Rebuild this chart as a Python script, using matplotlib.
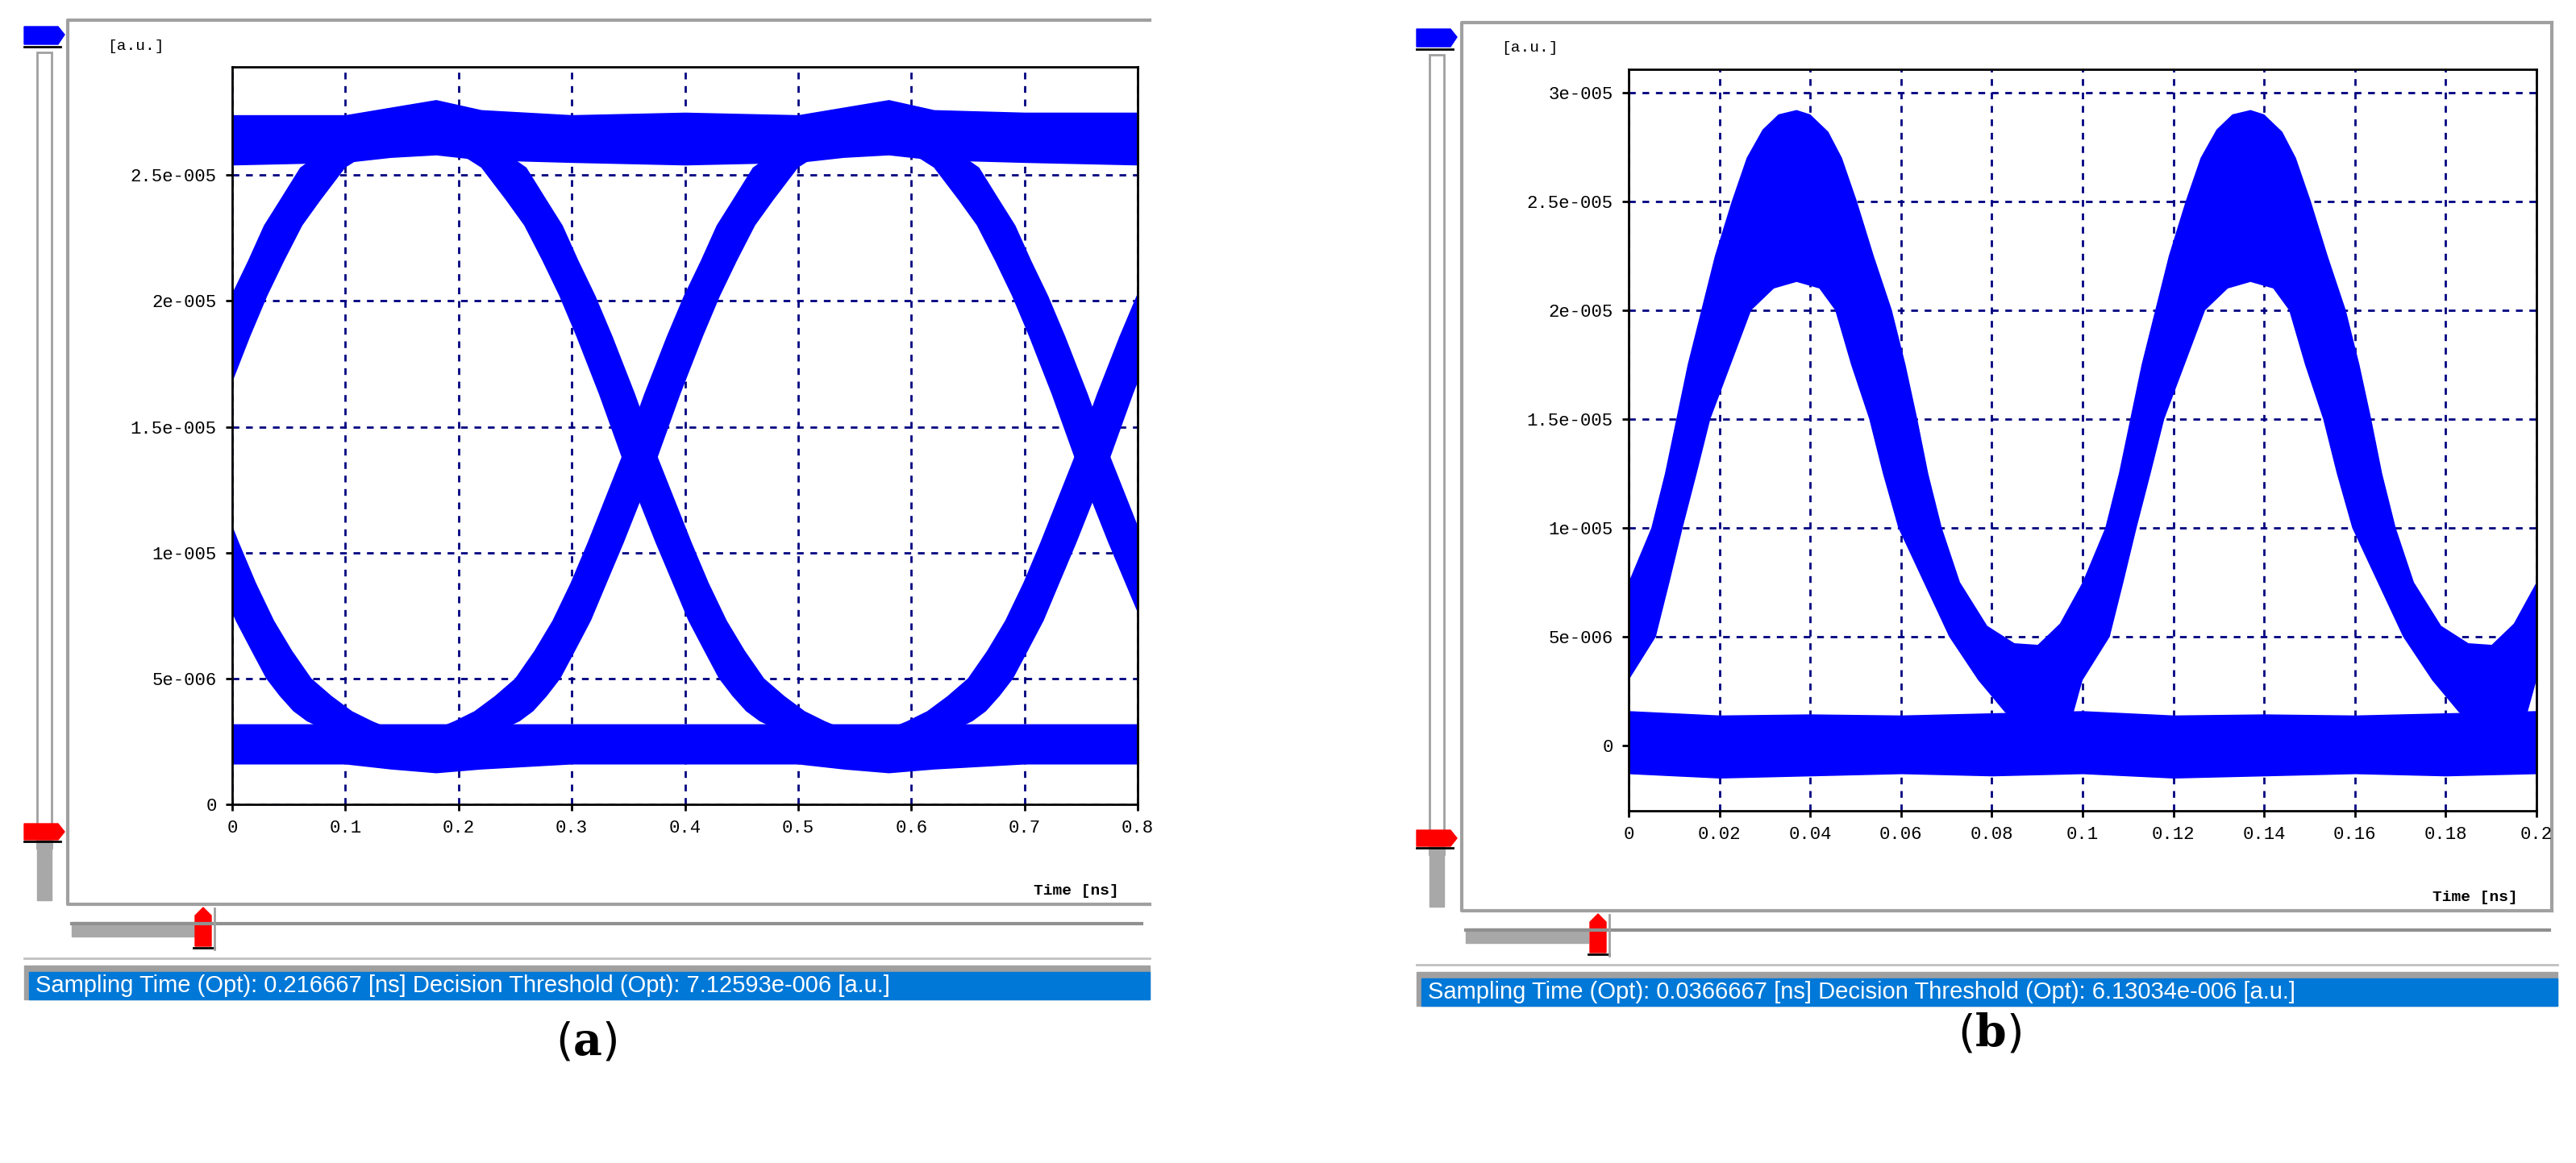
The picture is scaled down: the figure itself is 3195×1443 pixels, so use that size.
import matplotlib
matplotlib.use('Agg')
import matplotlib.pyplot as plt
from matplotlib.patches import Rectangle, Polygon
from matplotlib.ticker import FuncFormatter, MultipleLocator
import numpy as np

W, H = 3195, 1443
BLUE = '#0000ff'
GRID = '#000080'
plt.rcParams['mathtext.fontset'] = 'dejavuserif'

# ---------- panel (a): NRZ eye (y in 1e-6 a.u.)
a_crossings = [-0.04, 0.36, 0.76]
# falling edge relative to a crossing point (dx in ns), rising edge is its mirror
a_edge_dx = [-0.17, -0.155, -0.14, -0.12, -0.10, -0.085, -0.07, -0.055, -0.04, -0.02, 0.0,
             0.015, 0.03, 0.045, 0.06, 0.075, 0.09, 0.105, 0.12, 0.135, 0.15, 0.18]
a_edge_y = [26.4, 26.2, 25.9, 25.3, 24.0, 23.0, 21.6, 20.2, 18.6, 16.3, 13.8,
            12.1, 10.4, 8.8, 7.3, 6.1, 5.0, 4.3, 3.7, 3.3, 3.0, 2.7]
a_edge_w = [0.022, 0.022, 0.021, 0.02, 0.018, 0.017, 0.016, 0.016, 0.016, 0.016, 0.016,
            0.016, 0.016, 0.016, 0.017, 0.018, 0.02, 0.023, 0.026, 0.029, 0.03, 0.03]

a_rail_x = [0, 0.1, 0.14, 0.18, 0.22, 0.3, 0.4, 0.5, 0.54, 0.58, 0.62, 0.7, 0.8]
a_top_hi = [27.4, 27.4, 27.7, 28.0, 27.6, 27.4, 27.5, 27.4, 27.7, 28.0, 27.6, 27.5, 27.5]
a_top_lo = [25.4, 25.5, 25.7, 25.8, 25.6, 25.5, 25.4, 25.5, 25.7, 25.8, 25.6, 25.5, 25.4]
a_bot_hi = [3.2, 3.2, 3.2, 3.2, 3.2, 3.2, 3.2, 3.2, 3.2, 3.2, 3.2, 3.2, 3.2]
a_bot_lo = [1.6, 1.6, 1.4, 1.25, 1.4, 1.6, 1.6, 1.6, 1.4, 1.25, 1.4, 1.6, 1.6]

# ---------- panel (b): RZ pulse train
b_peaks = [-0.063, 0.037, 0.137, 0.237]
b_outer_dx = [-0.047, -0.042, -0.037, -0.032, -0.029, -0.0265, -0.024, -0.021, -0.018, -0.0143,
              -0.011, -0.0075, -0.004, 0.0, 0.003, 0.007, 0.010, 0.0133, 0.017, 0.021, 0.024,
              0.0266, 0.029, 0.032, 0.036, 0.042, 0.048, 0.055]
b_outer_y = [4.6, 5.6, 7.5, 10.0, 12.5, 15.0, 17.5, 20.0, 22.5, 25.0,
             27.0, 28.3, 29.0, 29.2, 29.0, 28.2, 27.0, 25.0, 22.5, 20.0, 17.5,
             15.0, 12.5, 10.0, 7.5, 5.5, 4.7, 4.6]
b_inner_dx = [0.046, 0.040, 0.0336, 0.028, 0.0224, 0.019, 0.016, 0.012, 0.0085, 0.005, 0.0,
              -0.005, -0.010, -0.0145, -0.019, -0.022, -0.0251, -0.028, -0.031, -0.034, -0.037, -0.039]
b_inner_y = [1.5, 3.0, 5.0, 7.5, 10.0, 12.5, 15.0, 17.5, 20.0, 21.0, 21.3,
             21.0, 20.0, 17.5, 15.0, 12.5, 10.0, 7.5, 5.0, 4.0, 3.0, 1.5]

b_rail_x = [0, 0.02, 0.04, 0.06, 0.08, 0.1, 0.12, 0.14, 0.16, 0.18, 0.2]
b_rail_hi = [1.6, 1.4, 1.45, 1.4, 1.5, 1.6, 1.4, 1.45, 1.4, 1.5, 1.6]
b_rail_lo = [-1.3, -1.5, -1.4, -1.3, -1.4, -1.3, -1.5, -1.4, -1.3, -1.4, -1.3]

a_status = 'Sampling Time (Opt): 0.216667 [ns] Decision Threshold (Opt): 7.12593e-006 [a.u.]'
b_status = 'Sampling Time (Opt): 0.0366667 [ns] Decision Threshold (Opt): 6.13034e-006 [a.u.]'


def sci_label(v, pos):
    if abs(v) < 1e-12:
        return '0'
    m, e = f'{v:.1e}'.split('e')
    m = m.rstrip('0').rstrip('.')
    e = int(e)
    return f'{m}e{"-" if e < 0 else "+"}{abs(e):03d}'


def add_axes_px(fig, l, t, r, b):
    return fig.add_axes([l / W, 1 - b / H, (r - l) / W, (b - t) / H])


def style_axes(ax):
    for s in ax.spines.values():
        s.set_linewidth(2)
        s.set_color('black')
    ax.grid(True, color=GRID, linestyle=(0, (3, 3)), linewidth=2)
    ax.set_axisbelow(True)
    ax.tick_params(direction='out', length=6, width=2, labelsize=16, pad=8)
    for lab in ax.get_xticklabels() + ax.get_yticklabels():
        lab.set_family('Liberation Mono')
    ax.yaxis.set_major_formatter(FuncFormatter(sci_label))


def band(ax, xs, ys, ws):
    xs = np.array(xs)
    ys = np.array(ys) * 1e-6
    ws = np.array(ws)
    px = np.concatenate([xs - ws, (xs + ws)[::-1]])
    py = np.concatenate([ys, ys[::-1]])
    ax.fill(px, py, color=BLUE, lw=0)


def window(c, l, t, r, b, slider_x, thumb_x, bar_x_end, status, status_r, right_edge):
    # frame
    c.plot([r, l, l, r], [t, t, b, b], color='#a0a0a0', lw=3)
    if right_edge:
        c.plot([r, r], [t, b], color='#a0a0a0', lw=3)
    # vertical slider
    c.add_patch(Rectangle((slider_x + 16, t + 40), 18, b - t - 110, fill=False, ec='#a0a0a0', lw=2))
    c.add_patch(Rectangle((slider_x + 16, b - 80), 18, 75, color='#a8a8a8'))
    c.add_patch(Polygon([[slider_x, t + 8], [slider_x + 42, t + 8], [slider_x + 50, t + 18],
                         [slider_x + 42, t + 30], [slider_x, t + 30]], color=BLUE))
    c.plot([slider_x, slider_x + 45], [t + 33, t + 33], color='black', lw=2)
    c.add_patch(Polygon([[slider_x, b - 100], [slider_x + 42, b - 100], [slider_x + 50, b - 90],
                         [slider_x + 42, b - 80], [slider_x, b - 80]], color='red'))
    c.plot([slider_x, slider_x + 45], [b - 78, b - 78], color='black', lw=2)
    # horizontal slider
    c.plot([l + 5, status_r - 10], [b + 24, b + 24], color='#909090', lw=3)
    c.add_patch(Rectangle((l + 5, b + 22), bar_x_end - l - 5, 18, color='#a8a8a8'))
    c.add_patch(Polygon([[thumb_x, b + 14], [thumb_x + 10, b + 4], [thumb_x + 20, b + 14],
                         [thumb_x + 20, b + 52], [thumb_x, b + 52]], color='red'))
    c.plot([thumb_x - 2, thumb_x + 24], [b + 54, b + 54], color='black', lw=2)
    c.plot([thumb_x + 24, thumb_x + 24], [b + 5, b + 56], color='#a0a0a0', lw=2)
    c.plot([slider_x, status_r], [b + 67, b + 67], color='#c0c0c0', lw=2)
    # status bar
    c.add_patch(Rectangle((slider_x, b + 76), status_r - slider_x, 42, color='#a0a0a0'))
    c.add_patch(Rectangle((slider_x + 6, b + 84), status_r - slider_x - 6, 34, color='#0078d7'))
    c.text(slider_x + 14, b + 101, status, color='white', fontsize=21, family='Liberation Sans',
           va='center', ha='left')


fig = plt.figure(figsize=(W / 100, H / 100), dpi=100)
chrome = fig.add_axes([0, 0, 1, 1])
chrome.set_xlim(0, W)
chrome.set_ylim(H, 0)
chrome.axis('off')

window(chrome, 84, 25, 1426, 1122, 30, 242, 242, a_status, 1426, False)
window(chrome, 1813, 28, 3165, 1130, 1757, 1972, 1970, b_status, 3172, True)

chrome.text(168, 57, '[a.u.]', fontsize=14, family='Liberation Mono', ha='center', va='center')
chrome.text(1897, 60, '[a.u.]', fontsize=14, family='Liberation Mono', ha='center', va='center')
chrome.text(1335, 1105, 'Time [ns]', fontsize=14, family='Liberation Mono', weight='bold',
            ha='center', va='center')
chrome.text(3070, 1113, 'Time [ns]', fontsize=14, family='Liberation Mono', weight='bold',
            ha='center', va='center')
chrome.text(727, 1294, r'($\mathbf{a}$)', fontsize=40, ha='center', va='center')
chrome.text(2468, 1284, r'($\mathbf{b}$)', fontsize=40, ha='center', va='center')

# panel (a)
ax1 = add_axes_px(fig, 288, 83, 1411, 998)
ax1.set_xlim(0, 0.8)
ax1.set_ylim(0, 2.93e-5)
ax1.xaxis.set_major_locator(MultipleLocator(0.1))
ax1.set_yticks([0, 5e-6, 1e-5, 1.5e-5, 2e-5, 2.5e-5])
ax1.xaxis.set_major_formatter(FuncFormatter(lambda v, p: '0' if abs(v) < 1e-9 else f'{v:.1f}'))
style_axes(ax1)
ax1.fill_between(a_rail_x, np.array(a_top_lo) * 1e-6, np.array(a_top_hi) * 1e-6, color=BLUE, lw=0)
ax1.fill_between(a_rail_x, np.array(a_bot_lo) * 1e-6, np.array(a_bot_hi) * 1e-6, color=BLUE, lw=0)
for c in a_crossings:
    band(ax1, [c + d for d in a_edge_dx], a_edge_y, a_edge_w)
    band(ax1, [c - d for d in a_edge_dx], a_edge_y, a_edge_w)

# panel (b)
ax2 = add_axes_px(fig, 2020, 86, 3146, 1006)
ax2.set_xlim(0, 0.2)
ax2.set_ylim(-3.0e-6, 3.107e-5)
ax2.xaxis.set_major_locator(MultipleLocator(0.02))
ax2.set_yticks([0, 5e-6, 1e-5, 1.5e-5, 2e-5, 2.5e-5, 3e-5])
ax2.xaxis.set_major_formatter(FuncFormatter(lambda v, p: '0' if abs(v) < 1e-9 else f'{v:.2f}'.rstrip('0')))
style_axes(ax2)
ax2.fill_between(b_rail_x, np.array(b_rail_lo) * 1e-6, np.array(b_rail_hi) * 1e-6, color=BLUE, lw=0)
for p in b_peaks:
    xs = [p + d for d in b_outer_dx] + [p + b_outer_dx[-1]] + [p + d for d in b_inner_dx] + [p + b_outer_dx[0]]
    ys = b_outer_y + [1.0] + b_inner_y + [1.0]
    ax2.fill(xs, np.array(ys) * 1e-6, color=BLUE, lw=0)

fig.savefig('out.png', dpi=100)
